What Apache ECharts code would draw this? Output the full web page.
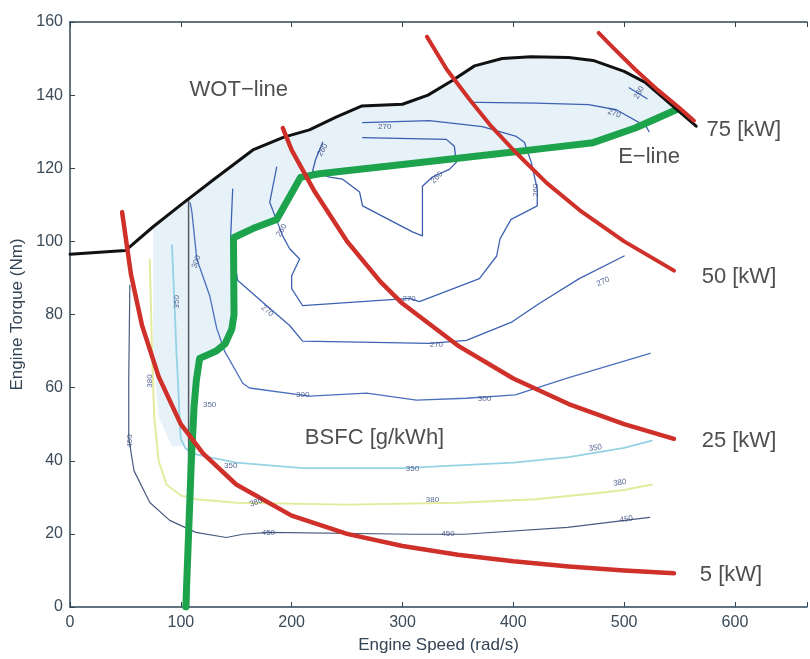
<!DOCTYPE html>
<html><head><meta charset="utf-8">
<script src="https://cdn.jsdelivr.net/npm/echarts@6/dist/echarts.min.js"></script>
<style>html,body{margin:0;padding:0;background:#fff}#c{width:810px;height:659px}</style>
</head><body><div id="c"></div>
<script>
// ---- axis ticks ----
const xTickValues = [0,100,200,300,400,500,600];
const xAxisMax = 665;
const yTickValues = [0,20,40,60,80,100,120,140,160];

// ---- main curves (x = engine speed rad/s, y = torque Nm) ----
const wotLine = [[0,96.5],[50,97.5],[75,104],[100,110],[130,117],[165,125],[193,128.5],[216,130.5],[240,134],[263,137],[300,137.5],[323,140],[345,144],[365,148],[390,150],[416,150.5],[450,150.3],[472,149.5],[500,146.5],[519,143.5],[540,138],[565,131.5]];
const eLine = [[104.5,0],[107,20],[109.5,40],[112,55],[114,62],[117,68],[132,70],[140,72],[146,76],[148,80],[147.5,101],[165,103.5],[186.5,106],[208,117.5],[225,118.5],[300,121],[402,124.5],[430,125.5],[472,127],[510,131],[547,136]];
const power5kW  = [[47,108],[55,91],[65,77],[80,63],[100,50],[120,42],[150,33.5],[200,25],[250,20],[300,16.7],[350,14.3],[400,12.5],[450,11.1],[500,10],[545,9.2]];
const power25kW = [[192,131],[200,125],[220,114],[250,100],[280,89],[300,83],[350,71.5],[400,62.5],[450,55.5],[500,50],[545,46]];
const power50kW = [[322,156],[340,147],[360,139],[380,131.5],[400,125],[430,116],[460,108.5],[500,100],[545,92]];
const power75kW = [[477,157],[490,153],[510,147],[530,141.5],[550,136.5],[563,133]];
const boundaryLine = [[107,0],[107,111.5]];

// ---- BSFC contours ----
const bsfc450 = [[54,88],[53,62.6],[53,46.3],[57.7,37.3],[72,28.6],[90,23.7],[113.5,20.4],[141,19],[156,19.9],[179,20.4],[309,19.9],[356,19.9],[449,21.8],[523,24.5]];
const bsfc380 = [[72,95],[74,70],[76,52],[80,40],[87,33.5],[100,30.5],[114,29.5],[150,28.5],[250,28],[350,28.5],[420,29.5],[470,31],[500,32],[525,33.5]];
const bsfc350 = [[92,99],[94,85],[96,70],[98,58],[99,50],[100,46],[104,43.5],[110,42],[125,41],[150,39.5],[210,38],[300,38],[400,39.5],[450,41],[500,43.5],[525,45.5]];
const bsfc300 = [[108.5,110.5],[110,108],[114.4,95.2],[126,85.2],[132.4,76.2],[139.6,69.9],[155.9,61.2],[162,59.9],[216,57.7],[267.6,58.5],[312.6,56.6],[357.7,57.1],[401.8,58],[448.6,62.6],[523.4,69.4]];
const bsfc270a = [[146.8,114.3],[145,101.5],[149.5,92.5],[151.4,89.3],[177.5,82.4],[198.2,77],[209.9,72.7],[324.3,72.1],[357.7,72.9],[399,78],[423.4,83],[459.5,89.8],[500,96]];
const bsfc270b = [[186.5,120.3],[180.2,110.7],[191.9,101.5],[198.2,98],[207.2,95.2],[200,90.6],[200,87.1],[209.9,82.4],[306.3,84.4],[315.3,83.5],[369.4,89.8],[385,96],[388,100.7],[398,106],[421.6,109.7],[421.6,114.3],[416.2,121.6],[410,127.1],[402.7,128.7],[372,131.4],[324.3,133],[264,132.5]];
const bsfc260 = [[228,127.1],[221.6,122.4],[218.9,119.2],[234.2,117.6],[246,117],[261.3,113.5],[264,109.7],[309,102.6],[318,101.5],[318,115.1],[327,117.6],[342.3,119.7],[348.6,121.6],[346.8,126],[339.6,127.9],[264,128.4]];
const bsfc270c = [[362,138],[369,138],[420,137.8],[468,137.4],[493,136],[520,131.4],[522.5,130]];
const bsfc260b = [[504.5,142],[520.7,139]];

// shaded (light blue) region: along WOT then back along the E-line
const shadedRegion = [[75,104],[100,110],[130,117],[165,125],[193,128.5],[216,130.5],[240,134],[263,137],[300,137.5],[323,140],[345,144],[365,148],[390,150],[416,150.5],[450,150.3],[472,149.5],[500,146.5],[519,143.5],[540,138],[547,136],[510,131],[472,127],[430,125.5],[402,124.5],[300,121],[225,118.5],[208,117.5],[186.5,106],[165,103.5],[147.5,101],[148,80],[146,76],[140,72],[132,70],[117,68],[114,62],[110,50],[104,44],[92,44],[80,52],[75,70]];

// ---- contour labels ----
const contourLabelPos = [[54,45.4],[179,20.4],[341,19.9],[502,24],[72,61.8],[168,28.6],[327,29.4],[496,34],[96.4,83.5],[126,55.2],[145,38.5],[309,37.8],[474,43.5],[114,94.4],[210,58],[374,57],[178,81],[306,84.4],[330.6,71.6],[481,89],[284,131.4],[491,135],[331,117.5],[191,103],[420,114],[228,125],[513.5,140.7]];
const contourLabelText = ['450','450','450','450','380','380','380','380','350','350','350','350','350','300','300','300','270','270','270','270','270','270','260','260','260','260','260'];
const contourLabelAngle = [90,0,0,8,90,20,0,8,90,0,0,0,8,70,0,0,-40,0,0,25,0,-20,45,60,90,60,60];

// ---- annotations ----
const annotationPos = [[152.3,141.5],[522.5,123],[274.8,46.3],[608,130.6],[603.6,90.3],[603.6,45.4],[596.4,8.7]];
const annotationText = ['WOT\u2212line','E\u2212line','BSFC [g/kWh]','75 [kW]','50 [kW]','25 [kW]','5 [kW]'];

const FONT = 'Liberation Sans, Arial, Helvetica, sans-serif';
const chart = echarts.init(document.getElementById('c'), null, {renderer:'canvas'});

function line(data, color, width, z) {
  return {type:'line', data:data, symbol:'none', showSymbol:false, silent:true, animation:false,
    lineStyle:{color:color, width:width, cap:'round', join:'round'}, z:z};
}

const series = [
  {type:'custom', silent:true, animation:false, z:1, data:shadedRegion,
   renderItem:function(params, api){
     if (params.dataIndex !== 0) return null;
     const pts = shadedRegion.map(p => api.coord(p));
     return {type:'polygon', shape:{points:pts}, style:{fill:'#e6f1f8'}};
   }},
  line(bsfc450, '#4a5b80', 1.2, 3),
  line(bsfc380, '#e4eb9c', 2, 3),
  line(bsfc350, '#95d2e4', 1.8, 3),
  line(bsfc300, '#4a6fbd', 1.3, 3),
  line(bsfc270a, '#3d62b2', 1.3, 3),
  line(bsfc270b, '#3d62b2', 1.3, 3),
  line(bsfc260, '#3a5cac', 1.3, 3),
  line(bsfc270c, '#3d62b2', 1.3, 3),
  line(bsfc260b, '#3d62b2', 1.3, 3),
  line(boundaryLine, '#555c66', 1.5, 4),
  line(eLine, '#1ca34b', 7, 5),
  line(wotLine, '#111111', 3, 6),
  line(power5kW, '#d0302a', 4.5, 7),
  line(power25kW, '#d0302a', 4.5, 7),
  line(power50kW, '#d0302a', 4, 7),
  line(power75kW, '#d0302a', 4, 7),
  {type:'scatter', silent:true, animation:false, z:8, symbolSize:0,
   data: contourLabelPos.map((p,i)=>({value:[p[0],p[1]], label:{rotate:contourLabelAngle[i]}, name:contourLabelText[i]})),
   label:{show:true, position:'inside', formatter:p=>p.name, fontSize:8, color:'#2b3f78', fontFamily:FONT}},
  {type:'scatter', silent:true, animation:false, z:9, symbolSize:0,
   data: annotationPos.map((p,i)=>({value:[p[0],p[1]], name:annotationText[i]})),
   label:{show:true, position:'inside', formatter:p=>p.name, fontSize:22, color:'#222222', fontFamily:FONT}}
];

const axisColor = '#2e4656';
chart.setOption({
  animation:false,
  backgroundColor:'#ffffff',
  grid:{left:70, right:0, top:22, bottom:49, containLabel:false},
  xAxis:[{
    type:'value', min:xTickValues[0], max:xAxisMax, interval:100,
    name:'Engine Speed (rad/s)', nameLocation:'middle', nameGap:30,
    nameTextStyle:{fontSize:17, color:'#334455', fontFamily:FONT},
    axisLine:{show:true, onZero:false, lineStyle:{color:axisColor, width:1.5}},
    axisTick:{show:true, inside:true, length:5, lineStyle:{color:axisColor}},
    axisLabel:{fontSize:16, color:'#3a4a58', margin:8, fontFamily:FONT,
      formatter:v => xTickValues.indexOf(v) >= 0 ? String(v) : ''},
    splitLine:{show:false}
  },{
    type:'value', position:'top', min:xTickValues[0], max:xAxisMax, interval:100,
    axisLine:{show:true, onZero:false, lineStyle:{color:axisColor, width:1.5}},
    axisTick:{show:true, inside:true, length:5, lineStyle:{color:axisColor}},
    axisLabel:{show:false}, splitLine:{show:false}
  }],
  yAxis:{
    type:'value', min:yTickValues[0], max:yTickValues[yTickValues.length-1], interval:20,
    name:'Engine Torque (Nm)', nameLocation:'middle', nameGap:40,
    nameTextStyle:{fontSize:17, color:'#334455', fontFamily:FONT},
    axisLine:{show:true, onZero:false, lineStyle:{color:axisColor, width:1.5}},
    axisTick:{show:true, inside:true, length:5, lineStyle:{color:axisColor}},
    axisLabel:{fontSize:16, color:'#3a4a58', margin:7, fontFamily:FONT},
    splitLine:{show:false}
  },
  series: series
});
</script>
</body></html>
